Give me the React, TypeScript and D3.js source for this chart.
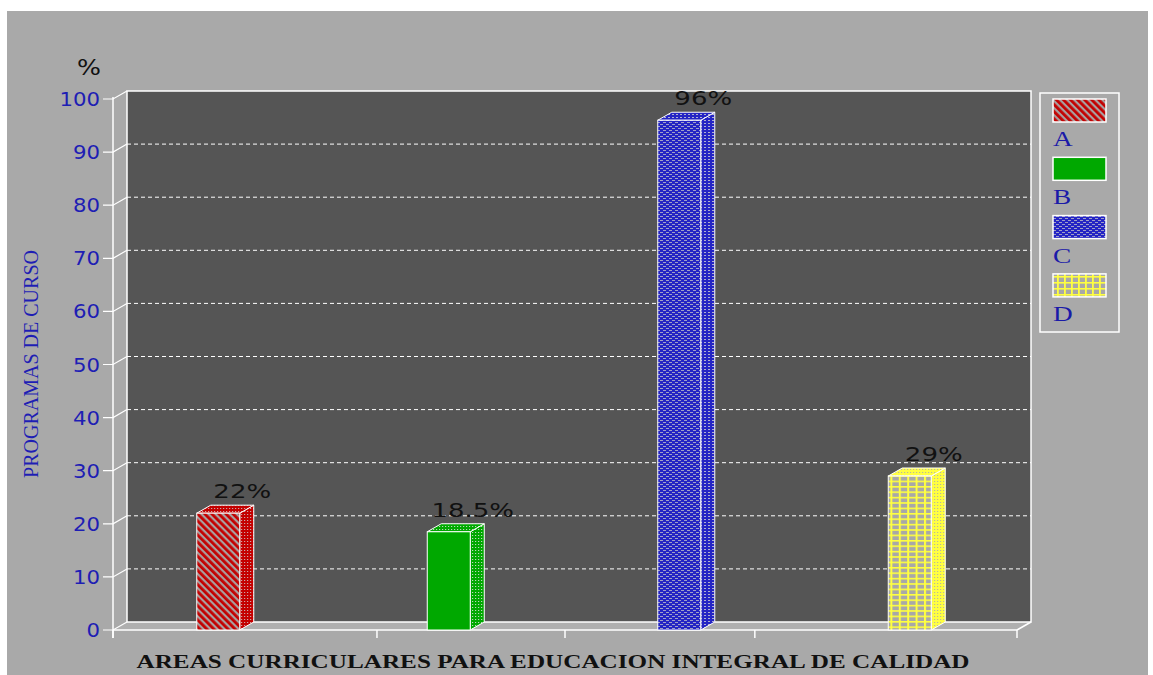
import React from "react";
import * as d3 from "d3";

const categories = ["A", "B", "C", "D"];
const values = [22, 18.5, 96, 29];
const valueLabels = ["22%", "18.5%", "96%", "29%"];
const yTicks = [0, 10, 20, 30, 40, 50, 60, 70, 80, 90, 100];
const xTickPositions = [0, 29.2, 50, 71, 100];
const yTitle = "PROGRAMAS DE CURSO";
const xTitle = "AREAS CURRICULARES PARA EDUCACION INTEGRAL DE CALIDAD";
const unitLabel = "%";

const W = 1153;
const H = 675;
const BG = "#a9a9a9";
const WALL = "#555555";
const DX = 14;
const DY = 8;
const frontLeft = 113;
const frontRight = 1017;
const frontBottom = 630;
const frontTop = 99;
const barWidth = 43;

const frontFill = ["url(#pA)", "#00a800", "url(#pC)", "url(#pD)"];
const sideFill = ["url(#pAs)", "url(#pBs)", "url(#pCs)", "url(#pDs)"];
const legendFill = ["url(#pA)", "#00a800", "url(#pC)", "url(#pDl)"];

export default function App() {
  const y = d3.scaleLinear().domain([0, 100]).range([frontBottom, frontTop]);
  const yBack = (v: number) => y(v) - DY;
  const xAxis = d3.scaleLinear().domain([0, 100]).range([frontLeft, frontRight]);
  const xBar = d3.scalePoint<string>().domain(categories).range([103, 1025]).padding(0.5);

  const wallL = frontLeft + DX;
  const wallR = frontRight + DX;

  const legendX = 1040;
  const legendY = 93;

  return (
    <svg
      width={W}
      height={H}
      style={{ position: "absolute", left: 0, top: 0, display: "block" }}
      xmlns="http://www.w3.org/2000/svg"
    >
      <defs>
        <pattern id="pA" patternUnits="userSpaceOnUse" width="5" height="5" patternTransform="rotate(-45)">
          <rect width="5" height="5" fill="#a8a0a0" />
          <rect width="2.8" height="5" fill="#c40000" />
        </pattern>
        <pattern id="pAs" patternUnits="userSpaceOnUse" width="3" height="3">
          <rect width="3" height="3" fill="#c40000" />
          <rect x="1" y="1" width="1.2" height="1" fill="#c8a8a8" />
        </pattern>
        <pattern id="pBs" patternUnits="userSpaceOnUse" width="3" height="3">
          <rect width="3" height="3" fill="#00a800" />
          <rect x="1" y="1" width="1.2" height="1" fill="#b8d8b8" />
        </pattern>
        <pattern id="pC" patternUnits="userSpaceOnUse" width="6" height="4">
          <rect width="6" height="4" fill="#2424c4" />
          <rect x="0" y="0" width="3" height="1" fill="#a0a0c8" />
          <rect x="3" y="2" width="3" height="1" fill="#a0a0c8" />
        </pattern>
        <pattern id="pCs" patternUnits="userSpaceOnUse" width="4" height="3">
          <rect width="4" height="3" fill="#2424c4" />
          <rect x="0" y="0" width="2" height="1" fill="#b0b0d0" />
        </pattern>
        <pattern id="pD" patternUnits="userSpaceOnUse" width="8.4" height="5.4">
          <rect width="8.4" height="5.4" fill="#a8a8a8" />
          <rect x="0" y="0" width="2" height="5.4" fill="#ffff40" />
          <rect x="0" y="0" width="8.4" height="1.6" fill="#ffff40" />
        </pattern>
        <pattern id="pDl" patternUnits="userSpaceOnUse" width="7" height="6">
          <rect width="7" height="6" fill="#a8a8a8" />
          <rect x="0" y="0" width="1.8" height="6" fill="#ffff40" />
          <rect x="0" y="0" width="7" height="1.6" fill="#ffff40" />
        </pattern>
        <pattern id="pDs" patternUnits="userSpaceOnUse" width="3" height="3">
          <rect width="3" height="3" fill="#ffff40" />
          <rect x="1" y="1" width="1.2" height="1" fill="#b8b8a0" />
        </pattern>
      </defs>

      <rect x={0} y={0} width={W} height={H} fill="#ffffff" />
      <rect x={7} y={11} width={1141} height={H - 11} fill={BG} />

      {/* floor */}
      <polygon
        points={`${frontLeft},${frontBottom} ${frontRight},${frontBottom} ${wallR},${frontBottom - DY} ${wallL},${frontBottom - DY}`}
        fill="#afafaf"
      />

      {/* back wall */}
      <rect
        x={wallL}
        y={yBack(100)}
        width={wallR - wallL}
        height={yBack(0) - yBack(100)}
        fill={WALL}
        stroke="#ffffff"
        strokeWidth={1.5}
      />

      {/* grid lines */}
      {yTicks
        .filter((t) => t > 0 && t < 100)
        .map((t) => (
          <line
            key={"g" + t}
            x1={wallL}
            x2={wallR}
            y1={yBack(t)}
            y2={yBack(t)}
            stroke="#ffffff"
            strokeWidth={1}
            strokeDasharray="4 3"
          />
        ))}

      {/* y axis */}
      <line x1={frontLeft} x2={frontLeft} y1={y(100) - 2} y2={frontBottom + 8} stroke="#ffffff" strokeWidth={1.5} />
      {yTicks.map((t) => (
        <g key={"yt" + t}>
          <polyline
            points={`${frontLeft - 10},${y(t)} ${frontLeft},${y(t)} ${wallL},${yBack(t)}`}
            fill="none"
            stroke="#ffffff"
            strokeWidth={1.2}
          />
          <text
            transform={`translate(${frontLeft - 13},${y(t) + 7}) scale(1.12,1)`}
            textAnchor="end"
            fontFamily="DejaVu Sans, sans-serif"
            fontSize={19}
            fill="#1e1eb4"
          >
            {t}
          </text>
        </g>
      ))}

      {/* x axis */}
      <line x1={frontLeft} x2={frontRight} y1={frontBottom} y2={frontBottom} stroke="#ffffff" strokeWidth={1.5} />
      <line x1={frontRight} x2={wallR} y1={frontBottom} y2={frontBottom - DY} stroke="#ffffff" strokeWidth={1.5} />
      {xTickPositions.map((p, i) => (
        <line
          key={"xt" + i}
          x1={xAxis(p)}
          x2={xAxis(p)}
          y1={frontBottom}
          y2={frontBottom + 8}
          stroke="#ffffff"
          strokeWidth={1.5}
        />
      ))}

      {/* bars */}
      {categories.map((c, i) => {
        const cx = xBar(c) as number;
        const x0 = cx - barWidth / 2;
        const x1 = cx + barWidth / 2;
        const top = y(values[i]);
        const bot = y(0);
        return (
          <g key={"bar" + c}>
            <polygon
              points={`${x1},${top} ${x1 + DX},${top - DY} ${x1 + DX},${bot - DY} ${x1},${bot}`}
              fill={sideFill[i]}
              stroke="#ffffff"
              strokeWidth={1}
            />
            <polygon
              points={`${x0},${top} ${x0 + DX},${top - DY} ${x1 + DX},${top - DY} ${x1},${top}`}
              fill={sideFill[i]}
              stroke="#ffffff"
              strokeWidth={1}
            />
            <rect x={x0} y={top} width={barWidth} height={bot - top} fill={frontFill[i]} stroke="#ffffff" strokeWidth={1} />
            <text
              transform={`translate(${cx + 24},${top - 15}) scale(1.3,1)`}
              textAnchor="middle"
              fontFamily="DejaVu Sans, sans-serif"
              fontSize={20}
              fill="#111111"
            >
              {valueLabels[i]}
            </text>
          </g>
        );
      })}

      {/* unit label */}
      <text
        transform="translate(101,75) scale(1.2,1)"
        textAnchor="end"
        fontFamily="DejaVu Sans, sans-serif"
        fontSize={21}
        fill="#111111"
      >
        {unitLabel}
      </text>

      {/* y title */}
      <text
        transform={`translate(38,${364}) rotate(-90)`}
        textAnchor="middle"
        fontFamily="Liberation Serif, serif"
        fontSize={21}
        fill="#1e1eb4"
        textLength={228}
        lengthAdjust="spacingAndGlyphs"
      >
        {yTitle}
      </text>

      {/* x title */}
      <text
        x={553}
        y={668}
        textAnchor="middle"
        fontFamily="Liberation Serif, serif"
        fontWeight="bold"
        fontSize={19}
        fill="#111111"
        textLength={833}
        lengthAdjust="spacingAndGlyphs"
      >
        {xTitle}
      </text>

      {/* legend */}
      <rect x={legendX} y={legendY} width={79} height={239} fill="none" stroke="#ffffff" strokeWidth={1.5} />
      {categories.map((c, i) => (
        <g key={"lg" + c}>
          <rect
            x={legendX + 13}
            y={legendY + 6 + i * 58.3}
            width={53}
            height={23}
            fill={legendFill[i]}
            stroke="#ffffff"
            strokeWidth={1.5}
          />
          <text
            transform={`translate(${legendX + 13},${legendY + 53 + i * 58.3}) scale(1.3,1)`}
            fontFamily="Liberation Serif, serif"
            fontSize={21}
            fill="#1a1aa8"
          >
            {c}
          </text>
        </g>
      ))}
    </svg>
  );
}
